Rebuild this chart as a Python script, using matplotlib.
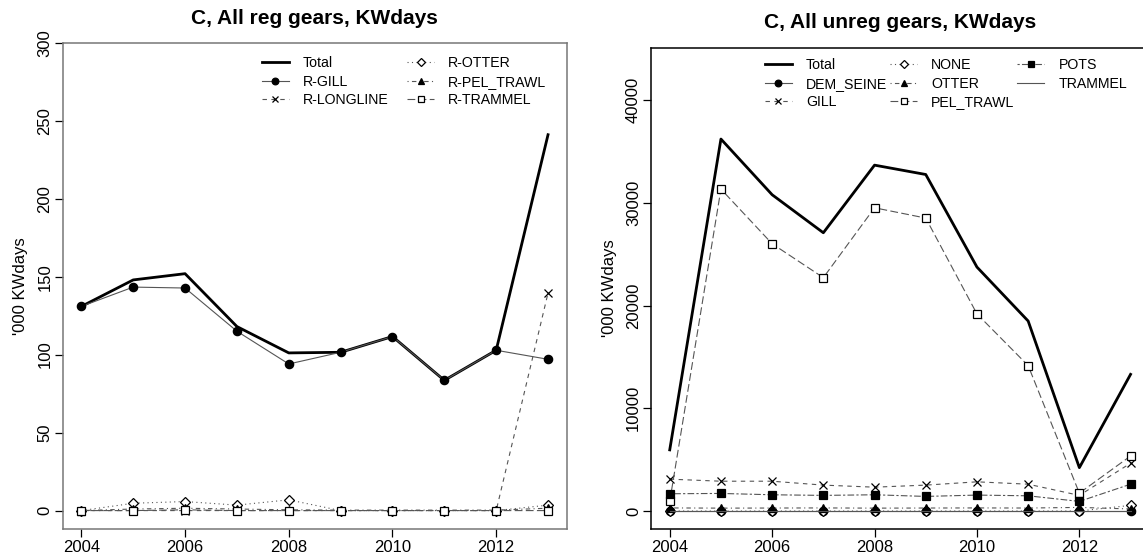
import matplotlib
matplotlib.use('Agg')
import matplotlib.pyplot as plt

plt.rcParams['font.family'] = ['Liberation Sans', 'DejaVu Sans']

years = list(range(2004, 2014))

# left panel: regulated gears, '000 KWdays
reg_total = [130.9, 147.9, 151.9, 118.0, 101.1, 101.5, 111.6, 83.5, 102.8, 241.0]
reg_gill = [130.9, 143.3, 142.7, 115.0, 94.0, 101.5, 111.6, 83.5, 102.8, 97.0]
reg_longline = [0, 0, 0, 0, 0, 0, 0, 0, 0, 139.5]
reg_otter = [0, 4.7, 5.8, 3.5, 6.9, 0, 0, 0, 0, 3.5]
reg_pel_trawl = [0, 1.0, 1.5, 1.0, 0.5, 0.3, 0.3, 0.3, 0.3, 1.5]
reg_trammel = [0, 0, 0.5, 0, 0, 0, 0, 0, 0, 0]
reg_names = ['Total', 'R-GILL', 'R-LONGLINE', 'R-OTTER', 'R-PEL_TRAWL', 'R-TRAMMEL']

# right panel: unregulated gears
unreg_total = [5950, 36200, 30780, 27080, 33660, 32750, 23740, 18490, 4220, 13300]
unreg_dem_seine = [0, 0, 0, 0, 0, 0, 0, 0, 0, 0]
unreg_gill = [3100, 2900, 2900, 2520, 2320, 2520, 2840, 2610, 1520, 4650]
unreg_none = [0, 0, 0, 0, 0, 0, 0, 0, 0, 550]
unreg_otter = [300, 280, 290, 300, 280, 290, 300, 290, 350, 200]
unreg_pel_trawl = [935, 31330, 26010, 22710, 29510, 28510, 19180, 14150, 1740, 5355]
unreg_pots = [1680, 1710, 1580, 1520, 1580, 1420, 1550, 1480, 935, 2610]
unreg_trammel = [0, 0, 0, 0, 0, 0, 0, 0, 0, 0]
unreg_names = ['Total', 'DEM_SEINE', 'GILL', 'NONE', 'OTTER', 'PEL_TRAWL', 'POTS', 'TRAMMEL']

# R-like lty / pch cycle
styles = [
    ('-', 'o', 'black'),                   # solid, pch 19
    ((0, (4, 4)), 'x', 'none'),            # dashed, pch 4
    ((0, (1, 3)), 'D', 'white'),           # dotted, pch 5
    ((0, (1, 3, 4, 3)), '^', 'black'),     # dotdash, pch 17
    ((0, (7, 3)), 's', 'white'),           # longdash, pch 22
    ((0, (2, 2, 6, 2)), 's', 'black'),     # twodash, pch 15
    ('-', None, 'none'),                   # solid, no symbol
]

W, H = 1143, 558
fig = plt.figure(figsize=(W / 100, H / 100), dpi=100)


def panel(rect, series, names, ylim, yticks, title, title_xy, leg_xy, colsp, ncol, spine_col):
    ax = fig.add_axes(rect)
    ax.plot(years, series[0], color='black', lw=2, label=names[0])
    for i, vals in enumerate(series[1:]):
        ls, mk, fc = styles[i]
        ms = 5.5 if mk == 'D' else 6
        ax.plot(years, vals, color='#555555', lw=0.8, ls=ls, marker=mk,
                mfc=fc, mec='black', ms=ms, mew=0.9, label=names[i + 1])
    ax.set_xlim(2003.64, 2013.36)
    ax.set_ylim(*ylim)
    ax.set_xticks([2004, 2006, 2008, 2010, 2012])
    ax.set_yticks(yticks)
    ax.tick_params(labelsize=12, length=5.5, width=0.9, pad=2)
    ax.tick_params(axis='y', labelrotation=90)
    for lab in ax.get_yticklabels():
        lab.set_va('center')
    for sp in ax.spines.values():
        sp.set_color(spine_col)
        sp.set_linewidth(1.1)
    ax.set_ylabel("'000 KWdays", fontsize=12)
    ax.yaxis.set_label_coords(-0.068, 0.5)
    fig.text(title_xy[0] / W, 1 - title_xy[1] / H, title, ha='center', va='center',
             fontsize=15, fontweight='bold')
    ax.legend(ncol=ncol, loc='upper left', bbox_to_anchor=(leg_xy[0] / W, 1 - leg_xy[1] / H),
              bbox_transform=fig.transFigure, frameon=False, fontsize=10.2,
              handlelength=1.9, handletextpad=1.0, columnspacing=colsp,
              labelspacing=0.33, borderpad=0, borderaxespad=0, markerscale=0.8)
    return ax


# left
panel([62.7 / W, 1 - 529.3 / H, 504 / W, 486.6 / H],
      [reg_total, reg_gill, reg_longline, reg_otter, reg_pel_trawl, reg_trammel],
      reg_names, (-12, 300), [0, 50, 100, 150, 200, 250, 300],
      'C, All reg gears, KWdays', (314.7, 18.3), (262, 56), 1.3, 2, '#777777')

# right
panel([651.3 / W, 1 - 529.3 / H, 497.7 / W, 481.6 / H],
      [unreg_total, unreg_dem_seine, unreg_gill, unreg_none, unreg_otter,
       unreg_pel_trawl, unreg_pots, unreg_trammel],
      unreg_names, (-1780, 45090), [0, 10000, 20000, 30000, 40000],
      'C, All unreg gears, KWdays', (900, 22), (765, 58), 0.2, 3, 'black')

fig.savefig('out.png', dpi=100)
